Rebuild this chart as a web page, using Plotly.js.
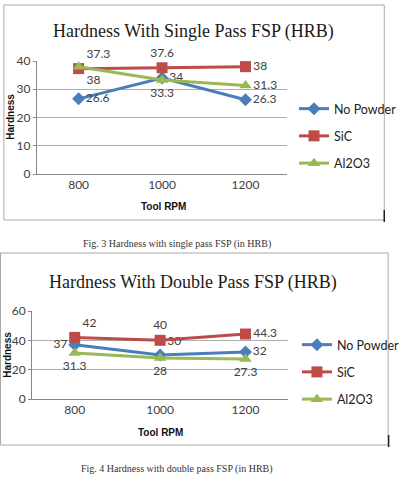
<!DOCTYPE html>
<html><head><meta charset="utf-8">
<script src="https://cdn.plot.ly/plotly-3.0.1.min.js"></script>
<style>html,body{margin:0;padding:0;background:#fff}#c{width:405px;height:488px}</style>
</head><body><div id="c"></div>
<script>
// ---- data ----
const rpm = ['800', '1000', '1200'];
const seriesNames = ['No Powder', 'SiC', 'Al2O3'];
const singleNoPowder = [26.6, 34, 26.3];
const singleSiC = [37.3, 37.6, 38];
const singleAl2O3 = [38, 33.3, 31.3];
const doubleNoPowder = [37, 30, 32];
const doubleSiC = [42, 40, 44.3];
const doubleAl2O3 = [31.3, 28, 27.3];
const titles = ['Hardness With Single Pass FSP (HRB)', 'Hardness With Double Pass FSP (HRB)'];
const captions = ['Fig. 3 Hardness with single pass FSP (in HRB)', 'Fig. 4 Hardness with double pass FSP (in HRB)'];

// ---- styles ----
const W = 405, H = 488;
const px = v => v / W, py = v => 1 - v / H;
const colors = ['#4A7EBB', '#BE4B48', '#98B954'];
const symbols = ['diamond', 'square', 'triangle-up'];
const msize = [10, 11, 11];
const narrow = 'Lato, "DejaVu Sans Condensed", "Liberation Sans", Arial, sans-serif';
const lblFont = {family: narrow, size: 12, color: '#404040'};

function mk(y, i, xa, ya, lg, pos) {
  return {
    x: rpm, y: y, name: seriesNames[i], type: 'scatter', mode: 'lines+markers+text',
    xaxis: xa, yaxis: ya, legend: lg, legendgroup: lg + i,
    line: {color: colors[i], width: 3},
    marker: {symbol: symbols[i], size: msize[i], color: colors[i]},
    text: y.map(String), textposition: pos, textfont: lblFont,
    cliponaxis: false, hoverinfo: 'skip'
  };
}

const data = [
  mk(singleNoPowder, 0, 'x', 'y', 'legend', ['middle right', 'middle right', 'middle right']),
  mk(singleSiC, 1, 'x', 'y', 'legend', ['top right', 'top center', 'middle right']),
  mk(singleAl2O3, 2, 'x', 'y', 'legend', ['bottom right', 'bottom center', 'middle right']),
  mk(doubleNoPowder, 0, 'x2', 'y2', 'legend2', ['middle left', 'top right', 'middle right']),
  mk(doubleSiC, 1, 'x2', 'y2', 'legend2', ['top right', 'top center', 'middle right']),
  mk(doubleAl2O3, 2, 'x2', 'y2', 'legend2', ['bottom center', 'bottom center', 'bottom center'])
];

const tickFont = {family: narrow, size: 12, color: '#404040'};
const xax = dom => ({domain: dom, type: 'category', range: [-0.5, 2.5], showgrid: false, zeroline: false,
  showline: true, linecolor: '#868686', linewidth: 1, ticks: '', tickfont: tickFont, fixedrange: true});
const yax = (dom, r, dt, anchor) => ({domain: dom, range: r, dtick: dt, anchor: anchor, showgrid: true, gridcolor: '#AFAFAF',
  gridwidth: 1, zeroline: false, showline: true, linecolor: '#868686', ticks: 'outside', ticklen: 3, tickcolor: '#868686',
  tickfont: tickFont, fixedrange: true});

const legendBase = {xanchor: 'left', yanchor: 'top', bgcolor: 'rgba(0,0,0,0)', borderwidth: 0,
  font: {family: narrow, size: 12.5, color: '#222'}, traceorder: 'grouped', tracegroupgap: 8, itemwidth: 30};

const titleFont = {family: '"Liberation Serif", "Times New Roman", serif', size: 18, color: '#1a1a1a'};
const capFont = {family: '"Liberation Serif", "Times New Roman", serif', size: 10, color: '#333'};
const axTitleFont = {family: '"Liberation Sans", Arial, sans-serif', size: 10, color: '#111', weight: 'bold'};

const ann = (text, x, y, font, extra) => Object.assign({text: text, x: px(x), y: py(y), xref: 'paper', yref: 'paper',
  showarrow: false, font: font, xanchor: 'center', yanchor: 'middle'}, extra || {});

const layout = {
  width: W, height: H, margin: {l: 0, r: 0, t: 0, b: 0}, paper_bgcolor: '#fff', plot_bgcolor: 'rgba(0,0,0,0)',
  showlegend: true,
  xaxis: Object.assign(xax([px(38), px(296)]), {anchor: 'y'}),
  yaxis: yax([py(174), py(61)], [0, 40], 10, 'x'),
  xaxis2: Object.assign(xax([px(33), px(297)]), {anchor: 'y2'}),
  yaxis2: yax([py(399), py(311)], [0, 60], 20, 'x2'),
  legend: Object.assign({x: px(303), y: py(94)}, legendBase),
  legend2: Object.assign({x: px(306), y: py(330)}, legendBase),
  shapes: [
    {type: 'rect', xref: 'paper', yref: 'paper', x0: px(4), x1: px(396), y0: py(220), y1: py(5), line: {color: '#A8A8A8', width: 1}, layer: 'below'},
    {type: 'rect', xref: 'paper', yref: 'paper', x0: px(0.5), x1: px(400), y0: py(445), y1: py(253), line: {color: '#A8A8A8', width: 1}, layer: 'below'},
    {type: 'line', xref: 'paper', yref: 'paper', x0: px(396), x1: px(396), y0: py(222), y1: py(210), line: {color: '#222', width: 1.5}},
    {type: 'line', xref: 'paper', yref: 'paper', x0: px(400.5), x1: px(400.5), y0: py(447), y1: py(435), line: {color: '#222', width: 1.5}}
  ],
  annotations: [
    ann(titles[0], 199, 32, titleFont),
    ann(titles[1], 199, 282, titleFont),
    ann(captions[0], 182, 244, capFont),
    ann(captions[1], 182, 469, capFont),
    ann('Hardness', 10, 117, axTitleFont, {textangle: -90}),
    ann('Tool RPM', 168, 206, axTitleFont),
    ann('Hardness', 7, 355, axTitleFont, {textangle: -90}),
    ann('Tool RPM', 165, 432, axTitleFont)
  ]
};

Plotly.newPlot('c', data, layout, {staticPlot: true, displayModeBar: false});
</script></body></html>
